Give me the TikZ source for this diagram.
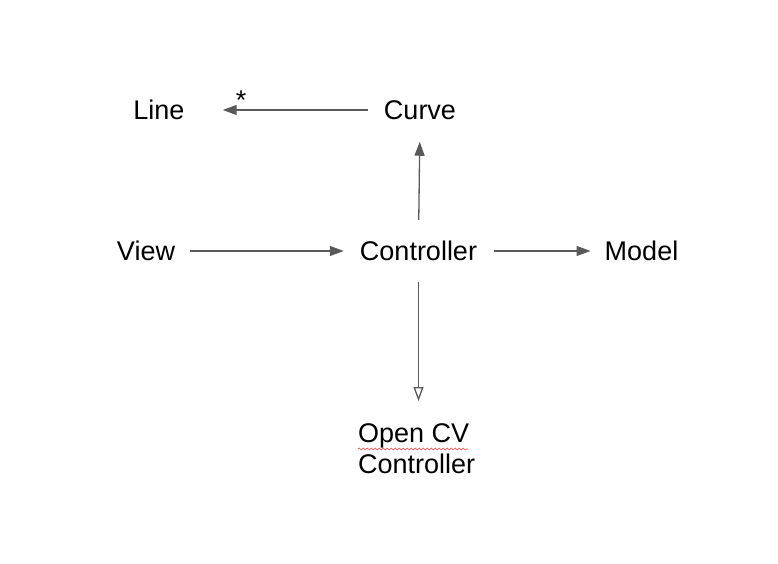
\documentclass[tikz,border=0pt]{standalone}
\usepackage{fontspec}
\setmainfont{Liberation Sans}
\usetikzlibrary{arrows.meta,decorations.pathmorphing}

\begin{document}
\begin{tikzpicture}[x=1pt,y=-1pt,
  label/.style={inner sep=0pt,font=\fontsize{27}{31}\selectfont},
  link/.style={draw=black!65,line width=1.3pt,-{Triangle[length=14pt,width=10pt]}},
  openlink/.style={draw=black!65,line width=1.3pt,-{Triangle[open,length=14pt,width=10pt]}}]
\useasboundingbox (0,0) rectangle (778,564);

\node[label] (line) at (159,110) {Line};
\node[label] (curve) at (420,110) {Curve};
\node[label] (view) at (146,251) {View};
\node[label] (controller) at (418.5,251) {Controller};
\node[label] (model) at (641.5,251) {Model};
\node[label,align=left,anchor=north west] (opencv) at (358,423) {Open CV\\Controller};
\node[label,anchor=base] (star) at (241,110) {*};

\draw[link,shorten <=16pt,shorten >=38pt] (curve) -- (line);
\draw[link,shorten <=21pt,shorten >=22pt] (controller.north) -- (curve.south);
\draw[link,shorten <=15pt,shorten >=16pt] (view) -- (controller);
\draw[link,shorten <=17pt,shorten >=14pt] (controller) -- (model);
\draw[openlink,shorten <=21pt,shorten >=22pt] (controller.south) -- (controller.south |- opencv.north);

% spell check mark
\draw[red!75,line width=0.6pt,decorate,decoration={snake,amplitude=1pt,segment length=4pt}] (358,449) -- (468,449);
\end{tikzpicture}
\end{document}
